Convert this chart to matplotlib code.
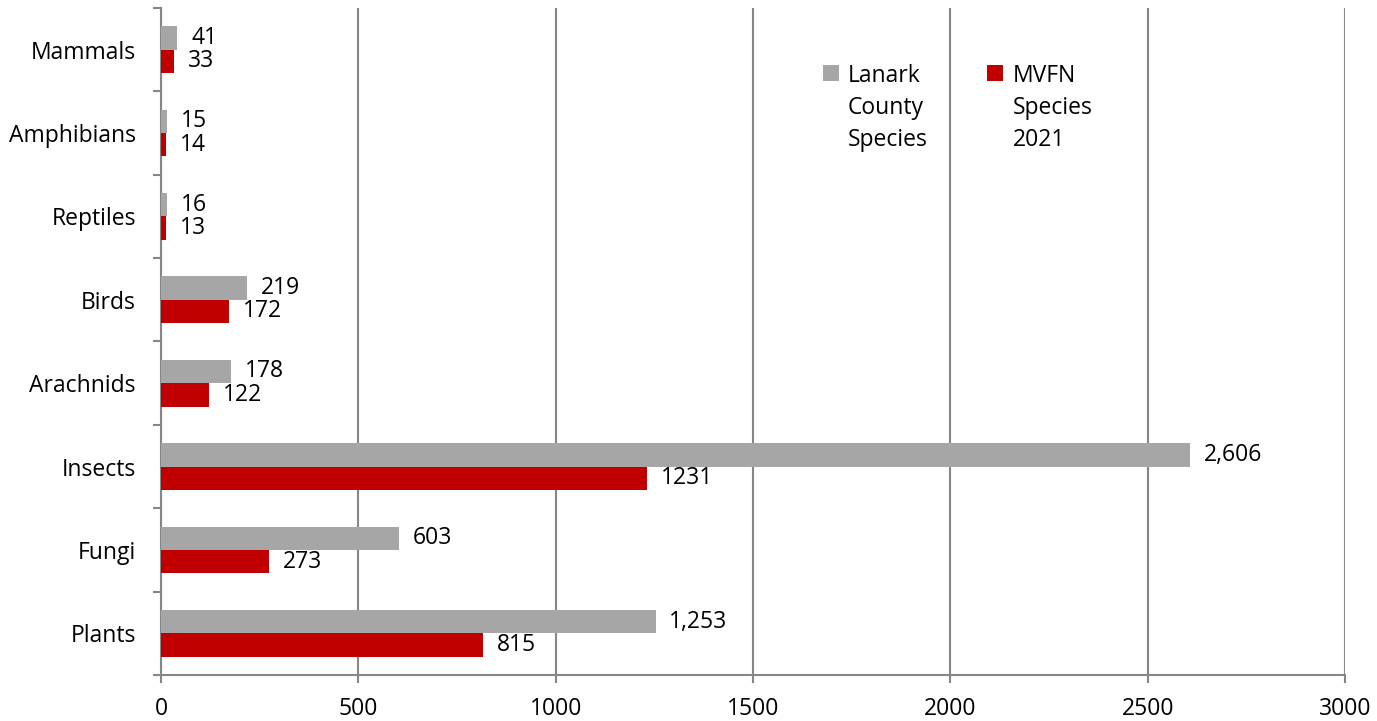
import numpy as np
import matplotlib.pyplot as plt
from matplotlib.patches import Rectangle
from matplotlib.container import BarContainer
from matplotlib.legend_handler import HandlerPatch

categories = ["Plants", "Fungi", "Insects", "Arachnids", "Birds", "Reptiles", "Amphibians", "Mammals"]
lanark = [1253, 603, 2606, 178, 219, 16, 15, 41]
mvfn = [815, 273, 1231, 122, 172, 13, 14, 33]
lanark_labels = ["1,253", "603", "2,606", "178", "219", "16", "15", "41"]
mvfn_labels = ["815", "273", "1231", "122", "172", "13", "14", "33"]
xticks = [0, 500, 1000, 1500, 2000, 2500, 3000]

plt.rcParams["font.family"] = ["Open Sans", "DejaVu Sans"]
FS = 16.5


def top_square(legend, orig_handle, xdescent, ydescent, width, height, fontsize):
    # square sitting at the first text line
    s = 0.7 * fontsize
    return Rectangle((-xdescent, -ydescent + height - s + 0.62 * fontsize), s, s)


def first_child(handle, orig):
    handle.update_from(orig.patches[0])


fig = plt.figure(figsize=(13.77, 7.21), dpi=100)
ax = fig.add_axes([0.1169, 0.0638, 0.8599, 0.9252])

y = np.arange(len(categories))
h = 0.28
grey = "#A6A6A6"
red = "#C00000"
ax.barh(y + h / 2, lanark, height=h, color=grey, label="Lanark\nCounty\nSpecies", zorder=3)
ax.barh(y - h / 2, mvfn, height=h, color=red, label="MVFN\nSpecies\n2021", zorder=3)

for yi, v, s in zip(y, lanark, lanark_labels):
    ax.annotate(s, (v, yi + h / 2), xytext=(10, 0), textcoords="offset points",
                va="center", ha="left", fontsize=FS)
for yi, v, s in zip(y, mvfn, mvfn_labels):
    ax.annotate(s, (v, yi - h / 2), xytext=(10, 0), textcoords="offset points",
                va="center", ha="left", fontsize=FS)

ax.set_xlim(0, 3000)
ax.set_ylim(-0.5, len(categories) - 0.5)
ax.set_xticks(xticks)
ax.set_xticklabels([str(t) for t in xticks], fontsize=FS)
ax.set_yticks(y)
ax.set_yticklabels(categories, fontsize=FS)
ax.set_yticks(np.arange(-0.5, len(categories)), minor=True)
ax.tick_params(axis="y", which="major", length=0, pad=18)
ax.tick_params(axis="y", which="minor", length=6, color="#868686", width=1.5)
ax.tick_params(axis="x", length=6, color="#868686", width=1.5, pad=10)

ax.grid(axis="x", color="#868686", linewidth=1.5, zorder=0)
for side in ["top", "right"]:
    ax.spines[side].set_visible(False)
ax.spines["left"].set_color("#868686")
ax.spines["left"].set_linewidth(1.5)
ax.spines["bottom"].set_color("#868686")
ax.spines["bottom"].set_linewidth(1.5)

leg = ax.legend(loc="upper left", bbox_to_anchor=(0.551, 0.93), ncol=2, frameon=False,
                fontsize=FS, handlelength=0.75, handleheight=3.9, handletextpad=0.35,
                columnspacing=2.6, borderaxespad=0,
                handler_map={BarContainer: HandlerPatch(patch_func=top_square,
                                                        update_func=first_child)})
for t in leg.get_texts():
    t.set_linespacing(1.45)

fig.savefig("out.png", dpi=100)
